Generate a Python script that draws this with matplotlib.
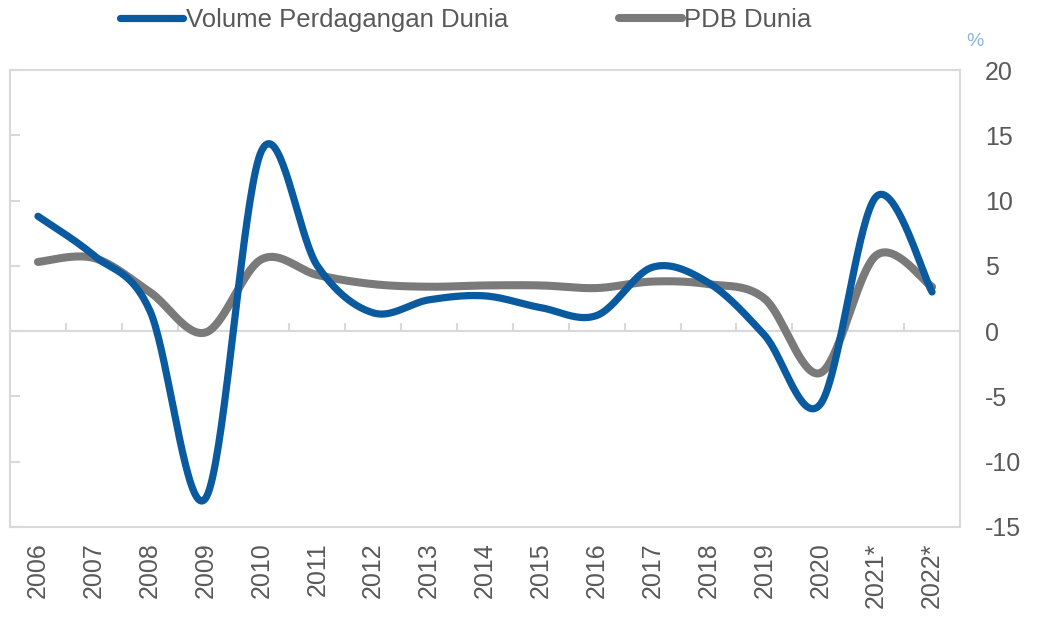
import matplotlib.pyplot as plt
import numpy as np

# data
years = ['2006', '2007', '2008', '2009', '2010', '2011', '2012', '2013', '2014',
         '2015', '2016', '2017', '2018', '2019', '2020', '2021*', '2022*']
trade = [8.8, 5.8, 1.6, -12.8, 13.8, 5.0, 1.4, 2.4, 2.7, 1.8, 1.2, 4.9, 3.7,
         -0.3, -5.6, 10.3, 3.0]
gdp = [5.3, 5.6, 3.0, -0.1, 5.5, 4.3, 3.6, 3.4, 3.5, 3.5, 3.3, 3.8, 3.6,
       2.5, -3.2, 5.8, 3.4]
yticks = [-15, -10, -5, 0, 5, 10, 15, 20]

BLUE = '#0a5aa0'
GREY = '#7a7a7a'
TEXT = '#595959'
FRAME = '#d9d9d9'
plt.rcParams['font.family'] = ['Liberation Sans', 'DejaVu Sans']


def smooth(xs, ys, n=40):
    # excel style smoothed line (catmull-rom bezier between the points)
    p = np.column_stack([xs, ys]).astype(float)
    p = np.vstack([p[0], p, p[-1]])
    t = np.linspace(0, 1, n)[:, None]
    out = []
    for i in range(1, len(p) - 2):
        p0, p1, p2, p3 = p[i], p[i + 1], p[i - 1], p[i + 2]
        c1 = p0 + (p1 - p2) / 6
        c2 = p1 - (p3 - p0) / 6
        seg = ((1 - t) ** 3) * p0 + 3 * ((1 - t) ** 2) * t * c1 \
            + 3 * (1 - t) * t ** 2 * c2 + t ** 3 * p1
        out.append(seg if i == 1 else seg[1:])
    out = np.vstack(out)
    return out[:, 0], out[:, 1]


fig = plt.figure(figsize=(10.38, 6.2), dpi=100)
ax = fig.add_axes([10 / 1038, 1 - 527 / 620, 950 / 1038, 457 / 620])

x = np.arange(len(years))
sx, sy = smooth(x, trade)
l1, = ax.plot(sx, sy, color=BLUE, lw=5.2, solid_capstyle='round', zorder=3,
              label='Volume Perdagangan Dunia')
gx, gy = smooth(x, gdp)
l2, = ax.plot(gx, gy, color=GREY, lw=5.8, solid_capstyle='round', zorder=2,
              label='PDB Dunia')

ax.set_xlim(-0.5, len(years) - 0.5)
ax.set_ylim(-15, 20)

# zero line with small ticks between the categories
ax.axhline(0, color=FRAME, lw=1.5, zorder=1)
ax.vlines(np.arange(0.5, len(years) - 1), 0, 0.6, color=FRAME, lw=1.5, zorder=1)

for s in ax.spines.values():
    s.set_color(FRAME)
    s.set_linewidth(1.5)

ax.set_yticks(yticks)
ax.set_yticklabels([str(v) for v in yticks])
ax.tick_params(axis='y', left=True, right=False, labelleft=False,
               labelright=True, direction='in', length=7, width=1.5,
               color=FRAME, labelsize=18, labelcolor=TEXT, pad=18)
ax.set_xticks(x)
ax.set_xticklabels(years, rotation=90)
ax.tick_params(axis='x', length=0, labelsize=18, labelcolor=TEXT, pad=11)

fig.text(975 / 1038, 1 - 42 / 620, '%', color='#8db4dc', fontsize=14,
         ha='center', va='center')

fig.legend(handles=[l1, l2], loc='center', ncol=2,
           bbox_to_anchor=(466 / 1038, 1 - 20 / 620), frameon=False,
           fontsize=18.5, handlelength=2.45, handletextpad=0.1,
           columnspacing=4.3, labelcolor=TEXT)

fig.savefig('out.png', dpi=100)
